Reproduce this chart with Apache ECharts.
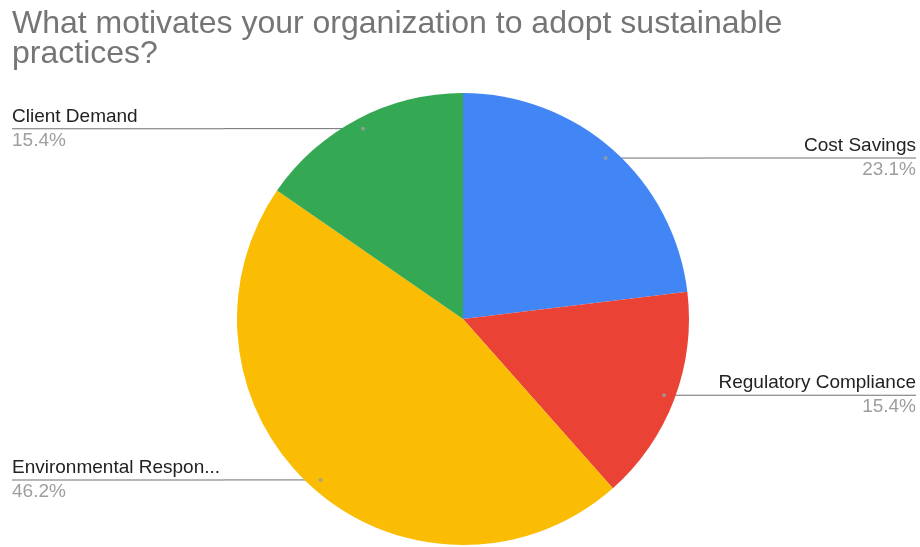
<!DOCTYPE html>
<html>
<head>
<meta charset="utf-8">
<title>What motivates your organization to adopt sustainable practices?</title>
<script src="https://cdn.jsdelivr.net/npm/echarts@6/dist/echarts.min.js"></script>
<style>
  html, body { margin: 0; padding: 0; background: #ffffff; }
  #chart { width: 920px; height: 547px; }
</style>
</head>
<body>
<div id="chart"></div>
<script>
// Survey answers: number of responses per motivation
const categories = ['Cost Savings', 'Regulatory Compliance', 'Environmental Responsibility', 'Client Demand'];
const responses = [3, 2, 6, 2];
const sliceColors = ['#4285f4', '#ea4335', '#fbbc04', '#34a853'];

const FONT = '"Liberation Sans", Arial, sans-serif';
const CENTER = [463, 319];
const RADIUS = 226;
const LABEL_RADIUS = 215; // leader lines start a little inside the rim

const total = responses.reduce((a, b) => a + b, 0);

// mid-angle of each slice, in response units, used to place the leader dots
const midPoints = [];
let acc = 0;
responses.forEach(v => { midPoints.push(acc + v / 2); acc += v; });

const sliceData = categories.map((name, i) => ({
  name: name,
  value: responses[i],
  itemStyle: { color: sliceColors[i] }
}));

const labelData = categories.map((name, i) => ({ name: name, value: responses[i] }));

const chart = echarts.init(document.getElementById('chart'), null, { renderer: 'canvas' });

chart.setOption({
  backgroundColor: '#ffffff',
  animation: false,
  title: {
    text: 'What motivates your organization to adopt sustainable\npractices?',
    left: 12,
    top: 9,
    padding: 0,
    textStyle: {
      fontFamily: FONT,
      fontSize: 32,
      fontWeight: 'normal',
      lineHeight: 30,
      color: '#757575'
    }
  },
  polar: { center: CENTER, radius: RADIUS },
  angleAxis: { type: 'value', min: 0, max: total, startAngle: 90, clockwise: true, show: false },
  radiusAxis: { type: 'value', min: 0, max: 1, show: false },
  series: [
    {
      // labels and leader lines, drawn underneath the slices
      type: 'pie',
      z: 1,
      silent: true,
      left: 12,
      right: 4,
      top: 0,
      bottom: 0,
      center: [CENTER[0] - 12, CENTER[1]],
      radius: LABEL_RADIUS,
      startAngle: 90,
      clockwise: true,
      avoidLabelOverlap: true,
      itemStyle: { color: 'rgba(0,0,0,0)' },
      data: labelData,
      label: {
        show: true,
        position: 'outside',
        alignTo: 'edge',
        edgeDistance: 0,
        distanceToLabelLine: 0,
        width: 212,
        overflow: 'truncate',
        ellipsis: '...',
        fontFamily: FONT,
        formatter: p => '{n|' + p.name + '}\n{l|}\n{p|' + (p.value / total * 100).toFixed(1) + '%}',
        rich: {
          n: { fontFamily: FONT, fontSize: 19, lineHeight: 23, color: '#222222' },
          l: { width: '100%', height: 1, lineHeight: 1, backgroundColor: '#707070' },
          p: { fontFamily: FONT, fontSize: 19, lineHeight: 23, color: '#9e9e9e' }
        }
      },
      labelLine: {
        show: true,
        length: 0,
        length2: 1,
        smooth: false,
        lineStyle: { color: '#707070', width: 1 }
      }
    },
    {
      type: 'pie',
      z: 2,
      center: CENTER,
      radius: RADIUS,
      startAngle: 90,
      clockwise: true,
      label: { show: false },
      labelLine: { show: false },
      emphasis: { disabled: true },
      data: sliceData
    },
    {
      // small dots where the leader lines start
      type: 'scatter',
      coordinateSystem: 'polar',
      z: 3,
      silent: true,
      symbol: 'circle',
      symbolSize: 4,
      itemStyle: { color: '#9e9e9e', opacity: 0.8 },
      data: midPoints.map(m => [LABEL_RADIUS / RADIUS, m])
    }
  ]
});
</script>
</body>
</html>
